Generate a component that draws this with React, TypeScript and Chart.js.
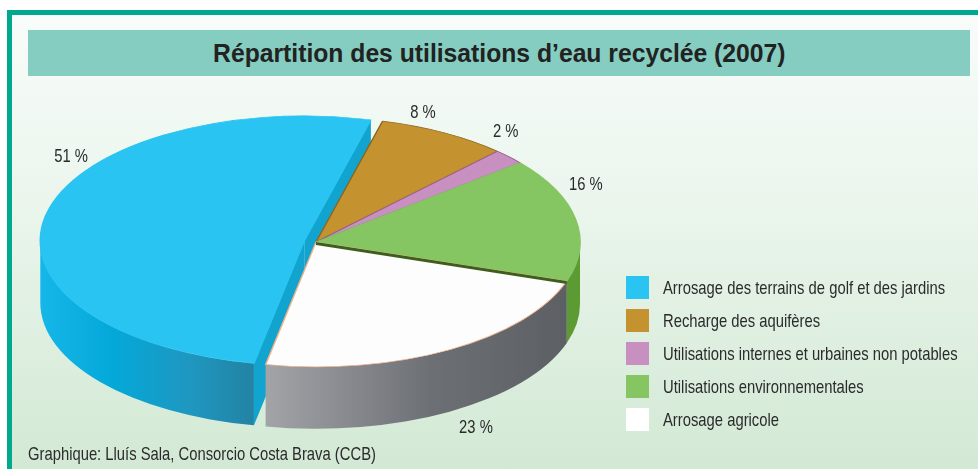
import React, { useEffect, useRef } from "react";
import { Chart, registerables, ArcElement } from "chart.js";

Chart.register(...registerables);

const titleText = "Répartition des utilisations d’eau recyclée (2007)";
const sourceText = "Graphique: Lluís Sala, Consorcio Costa Brava (CCB)";
const categories = [
  "Arrosage des terrains de golf et des jardins",
  "Recharge des aquifères",
  "Utilisations internes et urbaines non potables",
  "Utilisations environnementales",
  "Arrosage agricole",
];
const shares = [51, 8, 2, 16, 23];
const shareLabels = ["51 %", "8 %", "2 %", "16 %", "23 %"];
const topColors = ["#29c4f2", "#c4922e", "#c790c1", "#85c562", "#fdfdfd"];
const borderColors = ["#29c4f2", "#8a6520", "#9a6090", "#85c562", "#f0b088"];
const explode = [12, 0, 0, 0, 0];

const FONT = '"Liberation Sans", Arial, sans-serif';
const NARROW = 0.8; // horizontal squeeze imitating a condensed face
const K = 0.473; // vertical squash of the pie
const DEPTH = 62; // extrusion depth
// label placement: [angle in degrees (canvas), radius factor]
const labelPolar: [number, number][] = [
  [216.3, 1.151],
  [291.4, 1.11],
  [309.2, 1.137],
  [335.9, 1.12],
  [58.6, 1.163],
];

type ArcLike = any;

function arcGeom(arc: ArcLike, i: number) {
  const off = explode[i] || 0;
  const mid = (arc.startAngle + arc.endAngle) / 2;
  const ex = arc.x + Math.cos(mid) * off;
  const ey = arc.y + Math.sin(mid) * off * K;
  return { ex, ey, R: arc.outerRadius, s: arc.startAngle, e: arc.endAngle, dx: Math.cos(mid) * off, dy: Math.sin(mid) * off };
}

function sideFill(ctx: CanvasRenderingContext2D, idx: number, x0: number, x1: number) {
  if (idx === 0) {
    const g = ctx.createLinearGradient(x0, 0, x1, 0);
    g.addColorStop(0, "#14b7e7");
    g.addColorStop(0.35, "#04a8d8");
    g.addColorStop(0.7, "#1f97c0");
    g.addColorStop(1, "#2283a4");
    return g;
  }
  if (idx === 4) {
    const g = ctx.createLinearGradient(x0, 0, x1, 0);
    g.addColorStop(0, "#a2a4a8");
    g.addColorStop(0.55, "#6c6f74");
    g.addColorStop(1, "#5c5f63");
    return g;
  }
  if (idx === 3) return "#5c9a34";
  if (idx === 1) return "#8f6a22";
  return "#9a6a92";
}

const pie3d = {
  id: "pie3d",
  beforeDatasetsDraw(chart: any) {
    const ctx: CanvasRenderingContext2D = chart.ctx;
    const arcs = chart.getDatasetMeta(0).data;
    const cx = arcs[0].x;
    const cy = arcs[0].y;
    const TAU = Math.PI * 2;
    // pull exploded slices out along their middle angle (in un-squashed space)
    arcs.forEach((arc: ArcLike, i: number) => {
      if (!explode[i] || arc.__exploded) return;
      arc.__exploded = true;
      arc.draw = function (c: CanvasRenderingContext2D, area: any) {
        const g = arcGeom(this, i);
        c.save();
        c.translate(g.dx, g.dy);
        ArcElement.prototype.draw.call(this, c, area);
        c.restore();
      };
    });
    // radial faces of exploded slices
    arcs.forEach((arc: ArcLike, i: number) => {
      if (!explode[i]) return;
      const { ex, ey, R, s, e } = arcGeom(arc, i);
      [
        [s, Math.cos(s) < 0],
        [e, Math.cos(e) > 0],
      ].forEach(([a, vis]: any) => {
        if (!vis) return;
        const px = ex + R * Math.cos(a);
        const py = ey + R * K * Math.sin(a);
        ctx.beginPath();
        ctx.moveTo(ex, ey);
        ctx.lineTo(px, py);
        ctx.lineTo(px, py + DEPTH);
        ctx.lineTo(ex, ey + DEPTH);
        ctx.closePath();
        ctx.fillStyle = "#11a4ce";
        ctx.fill();
      });
    });
    // outer sides (front half only)
    arcs.forEach((arc: ArcLike, i: number) => {
      const { ex, ey, R } = arcGeom(arc, i);
      let s = arc.startAngle % TAU;
      if (s < 0) s += TAU;
      const e = s + (arc.endAngle - arc.startAngle);
      [0, TAU].forEach((k) => {
        const lo = Math.max(s, k);
        const hi = Math.min(e, k + Math.PI);
        if (hi <= lo) return;
        const xa = ex + R * Math.cos(lo);
        const xb = ex + R * Math.cos(hi);
        const x0 = Math.min(xa, xb, hi - k > Math.PI * 0.9 ? ex - R : Infinity);
        const x1 = Math.max(xa, xb);
        ctx.beginPath();
        ctx.ellipse(ex, ey, R, R * K, 0, lo, hi, false);
        ctx.ellipse(ex, ey + DEPTH, R, R * K, 0, hi, lo, true);
        ctx.closePath();
        ctx.fillStyle = sideFill(ctx, i, x0, x1);
        ctx.fill();
      });
    });
    // squash the tops into an ellipse
    ctx.save();
    ctx.translate(cx, cy);
    ctx.scale(1, K);
    ctx.translate(-cx, -cy);
  },
  afterDatasetsDraw(chart: any) {
    const ctx: CanvasRenderingContext2D = chart.ctx;
    ctx.restore();
    const arcs = chart.getDatasetMeta(0).data;
    // dark rim where the green slice meets the white slice
    const g = arcGeom(arcs[3], 3);
    const a = g.e;
    const px = g.ex + g.R * Math.cos(a);
    const py = g.ey + g.R * K * Math.sin(a);
    ctx.beginPath();
    ctx.moveTo(g.ex, g.ey);
    ctx.lineTo(px, py);
    ctx.lineTo(px, py + 3);
    ctx.lineTo(g.ex, g.ey + 3);
    ctx.closePath();
    ctx.fillStyle = "#3e5e1c";
    ctx.fill();
    // percentage labels
    const cx = arcs[0].x;
    const cy = arcs[0].y;
    const R = arcs[0].outerRadius;
    ctx.save();
    ctx.font = `18.5px ${FONT}`;
    ctx.fillStyle = "#2b2b2b";
    ctx.textAlign = "center";
    ctx.textBaseline = "middle";
    shareLabels.forEach((t, i) => {
      const [deg, f] = labelPolar[i];
      const ang = (deg * Math.PI) / 180;
      const x = cx + Math.cos(ang) * R * f;
      let y = cy + Math.sin(ang) * R * f * K;
      if (Math.sin(ang) > 0) y += DEPTH;
      ctx.save();
      ctx.translate(x, y);
      ctx.scale(NARROW, 1);
      ctx.fillText(t, 0, 0);
      ctx.restore();
    });
    ctx.restore();
  },
};

const narrowText = (text: string, origin: string) => (
  <span
    style={{
      display: "inline-block",
      transform: `scaleX(${NARROW})`,
      transformOrigin: origin,
      whiteSpace: "nowrap",
    }}
  >
    {text}
  </span>
);

export default function App() {
  const ref = useRef<HTMLCanvasElement | null>(null);
  useEffect(() => {
    document.body.style.margin = "0";
    if (!ref.current) return;
    const chart = new Chart(ref.current, {
      type: "pie",
      data: {
        labels: categories,
        datasets: [
          {
            data: shares,
            backgroundColor: topColors,
            borderColor: borderColors,
            borderWidth: 1.5,
            clip: false as any,
          },
        ],
      },
      options: {
        animation: false,
        responsive: false,
        rotation: 191,
        radius: 264,
        layout: { padding: { left: 0, right: 346, top: 15, bottom: 0 } },
        plugins: {
          legend: { display: false },
          title: { display: false },
          tooltip: { enabled: false },
        },
        events: [],
      },
      plugins: [pie3d],
    });
    return () => chart.destroy();
  }, []);

  return (
    <div
      style={{
        position: "absolute",
        left: 0,
        top: 0,
        width: 978,
        height: 469,
        overflow: "hidden",
        background: "#ffffff",
        fontFamily: FONT,
      }}
    >
      <div
        style={{
          position: "absolute",
          left: 7,
          top: 10,
          width: 1000,
          height: 500,
          boxSizing: "border-box",
          border: "5px solid #00a98e",
          background: "linear-gradient(to bottom, #f8fcfa 0%, #eaf5ec 40%, #cfe7d1 100%)",
        }}
      />
      <div
        style={{
          position: "absolute",
          left: 28,
          top: 30,
          width: 942,
          height: 46,
          background: "#85cdc0",
          display: "flex",
          alignItems: "center",
          justifyContent: "center",
          fontWeight: "bold",
          fontSize: 26,
          color: "#222222",
        }}
      >
        <span style={{ display: "inline-block", transform: "scaleX(0.95)", whiteSpace: "nowrap" }}>
          {titleText}
        </span>
      </div>
      <canvas
        ref={ref}
        width={978}
        height={469}
        style={{ position: "absolute", left: 0, top: 0, width: 978, height: 469 }}
      />
      {categories.map((c, i) => (
        <div
          key={c}
          style={{
            position: "absolute",
            left: 626,
            top: 276 + i * 33,
            height: 23,
            display: "flex",
            alignItems: "center",
            whiteSpace: "nowrap",
            fontSize: 18.5,
            color: "#2b2b2b",
          }}
        >
          <span
            style={{
              display: "inline-block",
              width: 23,
              height: 23,
              background: topColors[i] === "#fdfdfd" ? "#ffffff" : topColors[i],
              marginRight: 14,
              flex: "none",
            }}
          />
          {narrowText(c, "left center")}
        </div>
      ))}
      <div
        style={{
          position: "absolute",
          left: 28,
          top: 443,
          fontSize: 18.5,
          color: "#2b2b2b",
          whiteSpace: "nowrap",
        }}
      >
        {narrowText(sourceText, "left center")}
      </div>
    </div>
  );
}
